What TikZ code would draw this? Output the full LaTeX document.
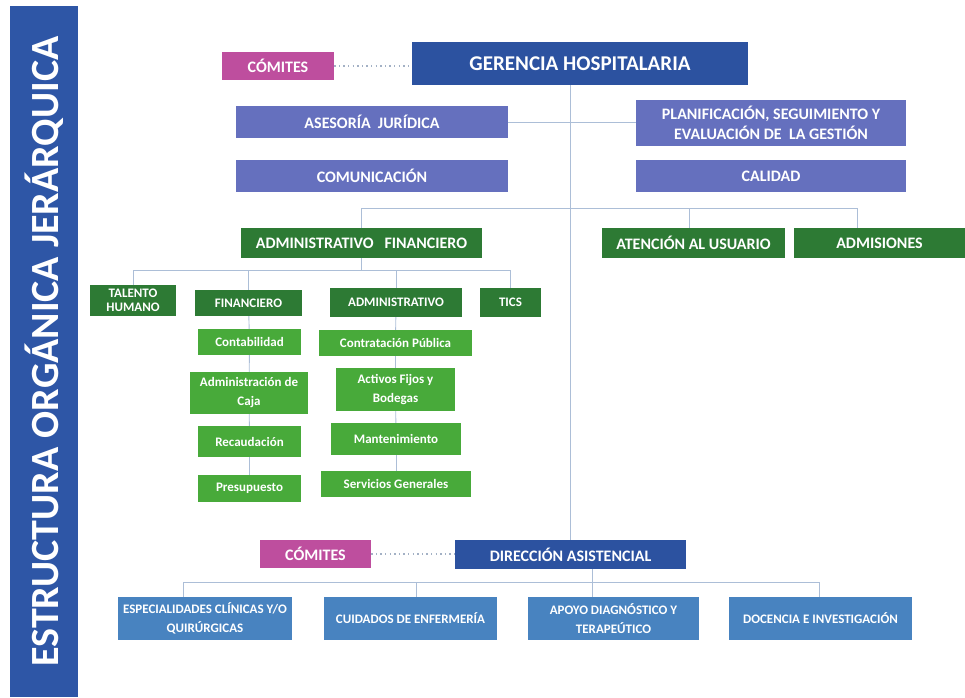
\documentclass[tikz,border=0pt]{standalone}
\usepackage{fontspec}
\setmainfont{Carlito}
\definecolor{barblue}{RGB}{46,86,166}
\definecolor{dirblue}{RGB}{44,82,160}
\definecolor{staffblue}{RGB}{101,112,190}
\definecolor{comitepink}{RGB}{190,78,158}
\definecolor{areagreen}{RGB}{45,122,52}
\definecolor{unitgreen}{RGB}{72,170,58}
\definecolor{careblue}{RGB}{72,131,192}
\definecolor{linecol}{RGB}{172,190,215}
\begin{document}
\begin{tikzpicture}[x=1pt, y=-1pt,
  wh/.style 2 args={minimum width=#1pt, minimum height=#2pt},
  box/.style={inner sep=1pt, text=white, align=center},
  dirbox/.style={box, fill=dirblue, font=\fontsize{21}{23}\selectfont\bfseries},
  staffbox/.style={box, fill=staffblue, font=\fontsize{16}{20}\selectfont\bfseries},
  comitebox/.style={box, fill=comitepink, font=\fontsize{16}{18}\selectfont\bfseries},
  areabox/.style={box, fill=areagreen, font=\fontsize{16}{18}\selectfont\bfseries},
  subbox/.style={box, fill=areagreen, font=\fontsize{13}{15}\selectfont\bfseries},
  unitbox/.style={box, fill=unitgreen, font=\fontsize{13}{19}\selectfont\bfseries},
  carebox/.style={box, fill=careblue, font=\fontsize{13}{19}\selectfont\bfseries},
  link/.style={draw=linecol, line width=0.9pt},
  dots/.style={draw=linecol!80!gray, line width=1.4pt, dash pattern=on 1.4pt off 3.2pt}]
  \useasboundingbox (0,0) rectangle (965,697);
  \node[rotate=90, fill=barblue, text=white, inner sep=0pt, wh={691}{68},
    font=\fontsize{40}{44}\selectfont\bfseries] (title) at (44,351.5) {ESTRUCTURA ORGÁNICA JERÁRQUICA};
  \node[comitebox, wh={112}{28}] (com1) at (278,66) {CÓMITES};
  \node[dirbox, wh={336}{43}] (ger) at (580,63.5) {GERENCIA HOSPITALARIA};
  \node[staffbox, wh={272}{32}] (ase) at (372,122) {ASESORÍA\ \ JURÍDICA};
  \node[staffbox, wh={270}{46}] (plan) at (771,123) {PLANIFICACIÓN, SEGUIMIENTO Y\\EVALUACIÓN DE\ \ LA GESTIÓN};
  \node[staffbox, wh={272}{32}] (comu) at (372,176) {COMUNICACIÓN};
  \node[staffbox, wh={270}{32}] (cal) at (771,176) {CALIDAD};
  \node[areabox, wh={241}{30}] (af) at (361.5,243) {ADMINISTRATIVO\ \ \ FINANCIERO};
  \node[areabox, wh={183}{30}] (au) at (693.5,243) {ATENCIÓN AL USUARIO};
  \node[areabox, wh={171}{30}] (adm) at (879.5,243) {ADMISIONES};
  \node[subbox, wh={86}{31}, font=\fontsize{13}{14}\selectfont\bfseries] (th) at (133,300.5) {TALENTO\\HUMANO};
  \node[subbox, wh={107}{26}] (fin) at (248.5,303) {FINANCIERO};
  \node[subbox, wh={132}{29}] (admi) at (396,302.5) {ADMINISTRATIVO};
  \node[subbox, wh={61}{29}] (tics) at (510.5,302.5) {TICS};
  \node[unitbox, wh={103}{26}] (cont) at (249.5,342) {Contabilidad};
  \node[unitbox, wh={118}{42}] (caja) at (249,393) {Administración de\\Caja};
  \node[unitbox, wh={103}{31}] (rec) at (249.5,441.5) {Recaudación};
  \node[unitbox, wh={103}{27}] (pres) at (249.5,488.5) {Presupuesto};
  \node[unitbox, wh={153}{26}] (contr) at (395.5,343) {Contratación Pública};
  \node[unitbox, wh={119}{43}] (act) at (395.5,389.5) {Activos Fijos y\\Bodegas};
  \node[unitbox, wh={130}{32}] (mant) at (396,439) {Mantenimiento};
  \node[unitbox, wh={150}{26}] (serv) at (396,484) {Servicios Generales};
  \node[comitebox, wh={111}{28}] (com2) at (315.5,554) {CÓMITES};
  \node[dirbox, wh={231}{29}, font=\fontsize{16}{18}\selectfont\bfseries] (dir) at (570.5,554.5) {DIRECCIÓN ASISTENCIAL};
  \node[carebox, wh={174}{43}] (esp) at (205,618.5) {ESPECIALIDADES CLÍNICAS Y/O\\QUIRÚRGICAS};
  \node[carebox, wh={173}{43}] (cui) at (410.5,618.5) {CUIDADOS DE ENFERMERÍA};
  \node[carebox, wh={171}{43}] (apo) at (613.5,618.5) {APOYO DIAGNÓSTICO Y\\TERAPEÚTICO};
  \node[carebox, wh={183}{43}] (doc) at (820.5,618.5) {DOCENCIA E INVESTIGACIÓN};
  \coordinate (tapau) at (689,208);
  \coordinate (tapadm) at (857,208);
  \coordinate (afbus) at (0,270);
  \coordinate (tapdir) at (592,582);
  \coordinate (tapesp) at (183,582);
  \coordinate (tapcui) at (416,582);
  \coordinate (tapapo) at (592,582);
  \coordinate (tapdoc) at (819,582);
  \draw[dots] (com1.east) -- (com1.east -| ger.west);
  \draw[dots] (com2.east) -- (com2.east -| dir.west);
  \draw[link] (ger.south -| dir.north) -- (dir.north);
  \draw[link] (ase.east) -- (ase.east -| plan.west);
  \draw[link] (af.north) |- (tapadm) -- (tapadm |- adm.north);
  \draw[link] (tapau) -- (tapau |- au.north);
  \draw[link] (af.south) -- (af.south |- afbus);
  \draw[link] (th.north) -- (th.north |- afbus) -- (tics.north |- afbus) -- (tics.north);
  \foreach \n in {fin,admi}
    \draw[link] (\n.north) -- (\n.north |- afbus);
  \foreach \a/\b in {fin/cont,cont/caja,caja/rec,rec/pres,admi/contr,contr/act,act/mant,mant/serv}
    \draw[link] (\a) -- (\b);
  \draw[link] (tapdir |- dir.south) -- (tapdir);
  \draw[link] (tapesp) -- (tapdoc);
  \foreach \n in {esp,cui,apo,doc}
    \draw[link] (tap\n) -- (tap\n |- \n.north);
\end{tikzpicture}
\end{document}
